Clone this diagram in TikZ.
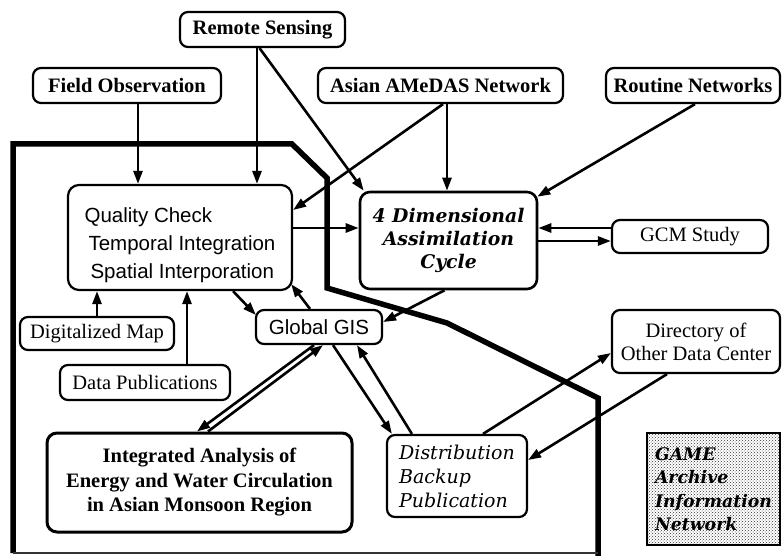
\documentclass[tikz,border=0pt]{standalone}
\usepackage{fontspec}
\setmainfont{Liberation Serif}
\newfontfamily\helv{Liberation Sans}
\newfontfamily\cent{DejaVu Serif}
\usetikzlibrary{arrows.meta,calc,patterns}
\begin{document}
\begin{tikzpicture}[x=1pt,y=-1pt,
  box/.style={draw, line width=2.2pt, rounded corners=8pt, fill=white, inner sep=0pt, align=center},
  bsf/.style={font=\fontsize{20.5}{24}\selectfont\bfseries},
  rsf/.style={font=\fontsize{20.5}{23}\selectfont},
  arr/.style={line width=2.6pt, -{Triangle[length=13pt,width=9pt]}},
  frameline/.style={line width=5.5pt, line join=miter}]
\useasboundingbox (0,0) rectangle (782,556);

% frame
\draw[frameline] (13,553) -- (13,144) -- (292,144) -- (327,178) -- (327,288) -- (447,323) -- (598,398) -- (598,556);
\draw[line width=1.2pt, black!80] (13,553) -- (598,553);

% nodes
\node[box,bsf,minimum width=165pt,minimum height=35pt] (rs) at (262.5,29.5) {Remote Sensing};
\node[box,bsf,minimum width=188pt,minimum height=35pt] (fo) at (127,85.5) {Field Observation};
\node[box,bsf,minimum width=245pt,minimum height=35pt] (am) at (440.5,85.5) {Asian AMeDAS Network};
\node[box,bsf,minimum width=174pt,minimum height=35pt] (rn) at (693,85.5) {Routine Networks};
\node[box, rounded corners=11pt, minimum width=224pt, minimum height=105pt, align=left,
      font=\helv\fontsize{20.5}{28}\selectfont] (qc) at (180,237.5)
      {\rule{0pt}{30pt}Quality Check\\\hspace*{4pt}Temporal Integration\\\hspace*{6pt}Spatial Interporation};
\node[box, line width=2.6pt, rounded corners=10pt, minimum width=177pt, minimum height=97pt,
      font=\cent\fontsize{18.8}{23}\selectfont\bfseries\itshape] (fd) at (448.5,240.5)
      {4 Dimensional\\Assimilation\\Cycle};
\node[box,rsf,minimum width=156pt,minimum height=33pt] (gcm) at (690,236.5) {GCM Study};
\node[box,font=\helv\fontsize{20.5}{24}\selectfont,minimum width=126pt,minimum height=34pt] (gis) at (319,327) {Global GIS};
\node[box,rsf,minimum width=154pt,minimum height=33pt] (dm) at (97,333.5) {Digitalized Map};
\node[box,rsf,minimum width=170pt,minimum height=35pt] (dp) at (145,382.5) {Data Publications};
\node[box,rsf,minimum width=168pt,minimum height=63pt] (dir) at (696,341.5) {Directory of\\Other Data Center};
\node[box,line width=3pt,rounded corners=10pt,font=\fontsize{20.5}{24.5}\selectfont\bfseries,
      minimum width=305pt,minimum height=99pt] (ia) at (199.5,482.5)
      {Integrated Analysis of\\Energy and Water Circulation\\in Asian Monsoon Region};
\node[box,align=left,font=\cent\fontsize{19}{24}\selectfont\itshape,
      minimum width=140pt,minimum height=82pt] (dist) at (457,476)
      {Distribution\\Backup\\Publication};
\node[draw,line width=1.8pt,pattern=crosshatch dots,pattern color=black!80,inner sep=0pt,align=left,
      font=\cent\fontsize{17.3}{23.5}\selectfont\bfseries\itshape,
      minimum width=133pt,minimum height=112pt] (game) at (713.5,489)
      {GAME\\Archive\\Information\\Network};

% arrows
\path ($(fo.south)+(11,0)$) coordinate (a1);
\draw[arr] (a1) -- (a1 |- qc.north);
\path ($(rs.south)+(-5.5,0)$) coordinate (a2);
\draw[arr] (a2) -- (a2 |- qc.north);
\draw[arr] ($(rs.south)+(-3,0)$) -- ($(fd.north west)+(5,0)$);
\draw[arr] ($(am.south)+(2.5,0)$) -- ($(qc.east)+(0,-27.5)$);
\path ($(am.south)+(6.5,0)$) coordinate (a5);
\draw[arr] (a5) -- (a5 |- fd.north);
\draw[arr] ($(rn.south)+(2,0)$) -- ($(fd.north east)+(-1,6)$);
\path ($(qc.east)+(0,-9.5)$) coordinate (a7);
\draw[arr] (a7) -- (a7 -| fd.west);
\path ($(gcm.west)+(0,-8.5)$) coordinate (a8);
\draw[arr] (a8) -- (a8 -| fd.east);
\path ($(fd.east)+(0,0.5)$) coordinate (a9);
\draw[arr] (a9) -- (a9 -| gcm.west);
\draw[arr] ($(fd.south)+(-4,0)$) -- ($(gis.east)+(0,-5)$);
\draw[arr] ($(qc.south)+(53,0)$) -- ($(gis.west)+(1,-12)$);
\draw[arr] ($(gis.north)+(-9,0)$) -- ($(qc.south east)+(-2,-7)$);
\draw[arr] (dm.north) -- (dm.north |- qc.south);
\path ($(dp.north)+(42,0)$) coordinate (a13);
\draw[arr] (a13) -- (a13 |- qc.south);
\draw[arr] ($(gis.south)+(-5,0)$) -- ($(ia.north)+(-2.5,0)$);
\draw[arr] ($(ia.north)+(8.5,0)$) -- ($(gis.south)+(4,0)$);
\draw[arr] ($(gis.south)+(14,0)$) -- ($(dist.north west)+(6,0)$);
\draw[arr] ($(dist.north west)+(26,0)$) -- ($(gis.south)+(38,0)$);
\draw[arr] ($(dist.north)+(26,0)$) -- ($(dir.west)+(0,11.5)$);
\draw[arr] ($(dir.south)+(-29,0)$) -- ($(dist.east)+(0,-16)$);
\end{tikzpicture}
\end{document}
